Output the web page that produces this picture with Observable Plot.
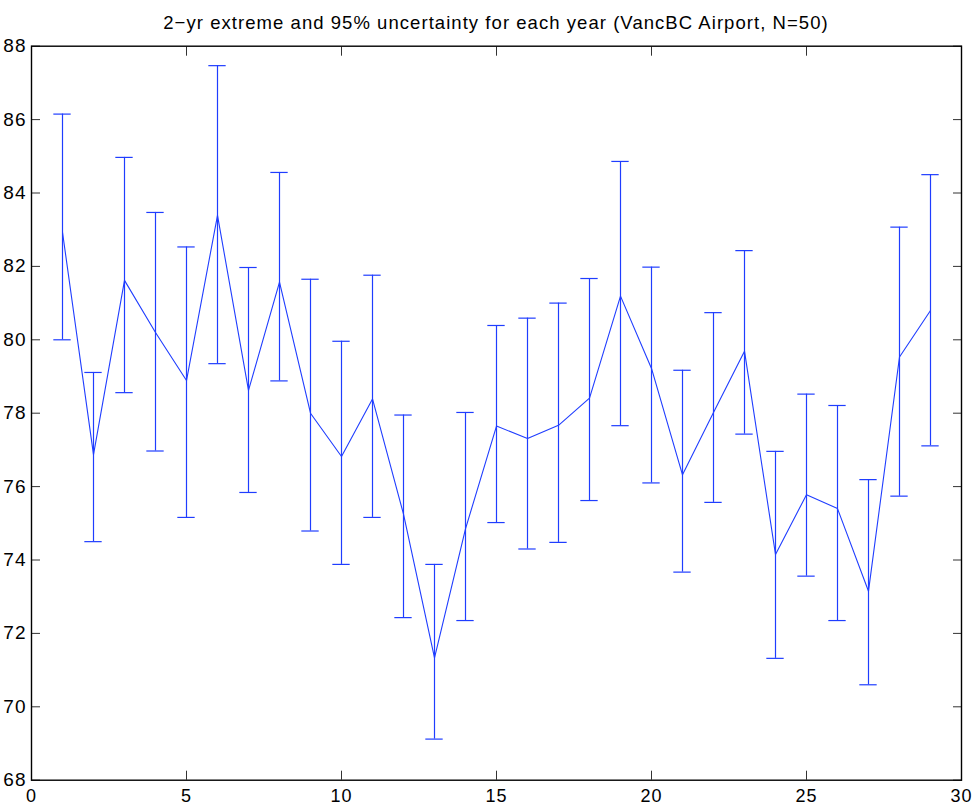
<!DOCTYPE html>
<html>
<head>
<meta charset="utf-8">
<script src="https://cdn.jsdelivr.net/npm/d3@7"></script>
<script src="https://cdn.jsdelivr.net/npm/@observablehq/plot@0.6"></script>
<style>
  html, body { margin: 0; padding: 0; background: #fff; }
  #title {
    position: relative;
    z-index: 1;
    box-sizing: border-box;
    width: 979px; height: 28px;
    padding: 0 18px 0 31px;
    text-align: center;
    font-family: "Liberation Sans", Arial, Helvetica, sans-serif;
    font-size: 18.5px;
    letter-spacing: 1.05px;
    line-height: 46px;
    color: #000;
    white-space: nowrap;
    overflow: visible;
  }
  #chart svg text { letter-spacing: 1px; }
</style>
</head>
<body>
<div id="title">2−yr extreme and 95% uncertainty for each year (VancBC Airport, N=50)</div>
<div id="chart"></div>
<script>
const years = [1,2,3,4,5,6,7,8,9,10,11,12,13,14,15,16,17,18,19,20,21,22,23,24,25,26,27,28,29];
const mid   = [82.93,76.87,81.62,80.20,78.89,83.39,78.62,81.57,78.00,76.82,78.39,75.25,71.33,74.85,77.65,77.31,77.67,78.41,81.19,79.22,76.32,78.02,79.69,74.15,75.78,75.40,73.15,79.53,80.80];
const upper = [86.15,79.11,84.97,83.47,82.53,87.47,81.97,84.56,81.65,79.96,81.76,77.95,73.88,78.02,80.39,80.59,81.00,81.67,84.86,81.98,79.17,80.74,82.43,76.96,78.52,78.21,76.19,83.07,84.50];
const lower = [80.00,74.50,78.56,76.97,75.16,79.35,75.84,78.88,74.79,73.88,75.16,72.43,69.12,72.35,75.02,74.30,74.48,75.62,77.66,76.10,73.67,75.57,77.43,71.32,73.56,72.35,70.60,75.74,77.11];
const xTicks = [0,5,10,15,20,25,30];
const yTicks = [68,70,72,74,76,78,80,82,84,86,88];

const capHalf = 0.28; // errorbar tee half-width in x units
const data = years.map((y, i) => ({year: y, mid: mid[i], hi: upper[i], lo: lower[i]}));
const blue = "#1f3dff";
const tickColor = "#333";
const noText = () => "";

const chart = Plot.plot({
  width: 979,
  height: 778,
  marginLeft: 31,
  marginRight: 18,
  marginTop: 17.7,
  marginBottom: 26.3,
  x: {domain: [0, 30], label: null},
  y: {domain: [68, 88], label: null},
  style: {fontFamily: "'Liberation Sans', Arial, Helvetica, sans-serif", fontSize: "19px", color: "#000", background: "transparent"},
  marks: [
    Plot.axisX(xTicks, {anchor: "bottom", tickSize: 0, tickPadding: 9.5, fontSize: 18, label: null}),
    Plot.axisY(yTicks, {anchor: "left", tickSize: 0, tickPadding: 5, label: null}),
    Plot.axisX(xTicks, {anchor: "bottom", tickSize: 9, dy: -9, tickFormat: noText, label: null, stroke: tickColor}),
    Plot.axisX(xTicks, {anchor: "top", tickSize: 9, dy: 9, tickFormat: noText, label: null, stroke: tickColor}),
    Plot.axisY(yTicks, {anchor: "left", tickSize: 9, dx: 9, tickFormat: noText, label: null, stroke: tickColor}),
    Plot.axisY(yTicks, {anchor: "right", tickSize: 9, dx: -9, tickFormat: noText, label: null, stroke: tickColor}),
    Plot.ruleX(data, {x: "year", y1: "lo", y2: "hi", stroke: blue, strokeWidth: 1.2}),
    Plot.ruleY(data, {y: "hi", x1: d => d.year - capHalf, x2: d => d.year + capHalf, stroke: blue, strokeWidth: 1.2}),
    Plot.ruleY(data, {y: "lo", x1: d => d.year - capHalf, x2: d => d.year + capHalf, stroke: blue, strokeWidth: 1.2}),
    Plot.line(data, {x: "year", y: "mid", stroke: blue, strokeWidth: 1.1}),
    Plot.frame({stroke: "#000", strokeWidth: 1.4})
  ]
});
document.getElementById("chart").appendChild(chart);
</script>
</body>
</html>
